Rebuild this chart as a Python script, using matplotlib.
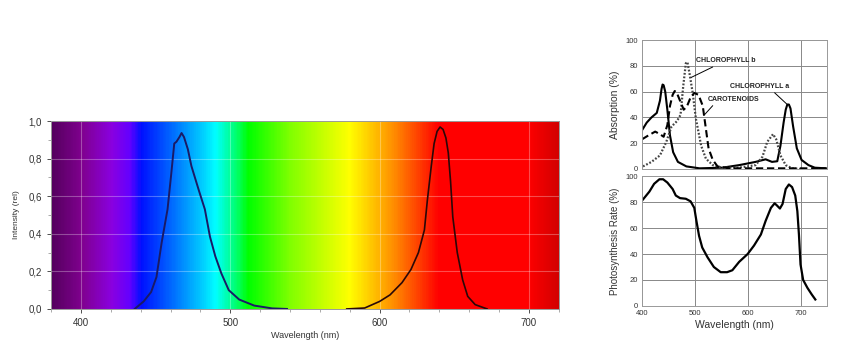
import numpy as np
import matplotlib
matplotlib.use("Agg")
import matplotlib.pyplot as plt
from matplotlib.colors import LinearSegmentedColormap
from matplotlib.ticker import MultipleLocator, FuncFormatter

plt.rcParams['font.family'] = ['Liberation Sans', 'DejaVu Sans']

# LED emission spectra (left chart)
blue_wl = [436, 442, 447, 450.6, 454, 458, 460.5, 462.5, 464, 466, 467.4, 469, 471.6, 474,
           479, 483, 486.4, 490, 494, 499, 506, 516, 528, 538]
blue_int = [0, 0.04, 0.09, 0.17, 0.35, 0.53, 0.72, 0.88, 0.89, 0.915, 0.936, 0.915, 0.85, 0.76,
            0.63, 0.53, 0.385, 0.28, 0.19, 0.10, 0.05, 0.018, 0.003, 0]
red_wl = [578, 590, 600, 607, 615, 621, 626, 630, 632, 634.6, 636.5, 638.5, 640.5, 642.5, 644.4,
          646, 647.5, 649, 652, 655.6, 659, 664, 672]
red_int = [0, 0.005, 0.04, 0.075, 0.14, 0.21, 0.30, 0.42, 0.58, 0.76, 0.88, 0.945, 0.968, 0.955,
           0.91, 0.83, 0.68, 0.49, 0.30, 0.155, 0.067, 0.023, 0]

# background spectrum colour stops
spec_wl = [380, 400, 420, 432, 440, 460, 480, 490, 505, 512, 540, 580, 610, 640, 700, 720]
spec_col = ['#55005f', '#80008f', '#8a00e0', '#6400ff', '#0010ff', '#0068ff', '#00c8ff',
            '#00ffff', '#00ff60', '#00ff00', '#80ff00', '#ffff00', '#ff8c00', '#ff0000',
            '#ff0000', '#d40000']

# absorption spectra (top right)
chla_wl = [400, 409, 418, 428, 434, 437, 439, 441, 444, 448, 453, 459, 468, 484, 509, 552, 584,
           615, 634, 646, 656, 662, 668, 672, 675, 678, 681, 686, 693, 702, 715, 727, 748]
chla_abs = [30, 36, 40, 43.5, 53, 62, 65.5, 65, 60, 46, 26, 13, 5.5, 2, 0.5, 1, 3,
            5.5, 7.5, 5.5, 6, 18, 36, 46, 50, 50, 47, 33, 16, 7, 3, 1, 0.5]
chlb_wl = [402, 418, 434, 446, 456, 466, 473, 478, 483, 486, 490, 496, 502, 512, 521, 534, 552,
           584, 615, 628, 637, 648, 654, 662, 672, 684, 702]
chlb_abs = [2, 5.5, 10.5, 21, 33, 37, 42, 64, 82, 83, 74, 59, 39, 18, 8, 3, 1,
            1, 3, 9.5, 21, 27, 23, 10.5, 3, 0.5, 0]
car_wl = [400, 412, 425, 434, 441, 448, 453, 458, 462, 466, 473, 479, 485, 492, 499, 507, 515,
          520, 526, 534, 543, 565, 748]
car_abs = [23, 26, 29, 27, 25, 34, 49, 57.5, 60.5, 59, 52, 46, 48.5, 55.5, 59, 57.5, 49,
           34, 16, 7, 2, 0.5, 0.5]

# photosynthesis action spectrum (bottom right)
ps_wl = [398, 404, 414, 423, 433, 440, 448, 458, 464, 472, 483, 492, 499, 503, 508, 514, 524,
         536, 549, 561, 571, 584, 600, 612, 625, 634, 644, 651, 655, 661, 666, 672, 678, 684,
         690, 694, 697, 700, 705, 713, 721, 728]
ps_rate = [80, 83, 88, 94, 97.5, 97.5, 95, 90, 85, 83, 82.5, 80.5, 75.5, 65.5, 54, 45, 37.5,
           30, 26, 26, 27.5, 34, 40, 46.5, 55, 65.5, 75.5, 79, 77.5, 75, 78.5, 90, 93.5, 91.5,
           85, 73, 55, 32, 20, 14, 9, 5]

fig = plt.figure(figsize=(8.68, 3.58), dpi=100)

# ---- left: LED spectrum over rainbow
ax = fig.add_axes([0.0588, 0.137, 0.585, 0.525])
stops = [(w - spec_wl[0]) / (spec_wl[-1] - spec_wl[0]) for w in spec_wl]
cmap = LinearSegmentedColormap.from_list('spec', list(zip(stops, spec_col)))
grad = np.linspace(0, 1, 600).reshape(1, -1)
ax.imshow(grad, cmap=cmap, aspect='auto', extent=[spec_wl[0], spec_wl[-1], 0, 1],
          origin='lower', zorder=0)
ax.plot(blue_wl, blue_int, color='#1a1a66', lw=1.4, zorder=3)
ax.plot(red_wl, red_int, color='#2a0808', lw=1.2, zorder=3)
ax.set_xlim(380, 720)
ax.set_ylim(0, 1)
ax.xaxis.set_major_locator(MultipleLocator(100))
ax.xaxis.set_minor_locator(MultipleLocator(20))
ax.yaxis.set_major_locator(MultipleLocator(0.2))
ax.yaxis.set_minor_locator(MultipleLocator(0.1))
ax.yaxis.set_major_formatter(FuncFormatter(lambda v, p: f"{v:.1f}".replace('.', ',')))
ax.grid(True, which='major', color='white', alpha=0.3, lw=0.8, zorder=1)
ax.tick_params(labelsize=7, colors='#333333', length=3, width=0.6)
ax.tick_params(which='minor', length=2, width=0.5, colors='#888888')
for s in ax.spines.values():
    s.set_color('#999999')
    s.set_linewidth(0.7)
ax.set_xlabel('Wavelength (nm)', fontsize=6.5, color='#333333', labelpad=2)
ax.set_ylabel('Intensity (rel)', fontsize=6, color='#333333', labelpad=6)

# ---- right top: absorption
ax1 = fig.add_axes([0.7396, 0.528, 0.2131, 0.360])
ax1.plot(chla_wl, chla_abs, color='black', lw=1.5)
ax1.plot(chlb_wl, chlb_abs, color='#444444', lw=1.6, ls=(0, (0.8, 0.8)))
ax1.plot(car_wl, car_abs, color='black', lw=1.5, ls=(0, (3.5, 1.8)))
ax1.annotate('CHLOROPHYLL b', xy=(493, 71), xytext=(502, 84), fontsize=5, fontweight='bold',
             color='#222222', va='center',
             arrowprops=dict(arrowstyle='-', color='black', lw=0.7, shrinkA=0, shrinkB=0))
ax1.annotate('CHLOROPHYLL a', xy=(675, 50), xytext=(567, 64), fontsize=5, fontweight='bold',
             color='#222222', va='center',
             arrowprops=dict(arrowstyle='-', color='black', lw=0.7, shrinkA=0, shrinkB=0,
                             relpos=(0.7, 0)))
ax1.annotate('CAROTENOIDS', xy=(517, 41.5), xytext=(524, 54), fontsize=5, fontweight='bold',
             color='#222222', va='center',
             arrowprops=dict(arrowstyle='-', color='black', lw=0.7, shrinkA=0, shrinkB=0,
                             relpos=(0.15, 0)))
ax1.set_xlim(400, 750)
ax1.set_ylim(0, 100)
ax1.set_xticks([400, 500, 600, 700])
ax1.set_xticklabels([])
ax1.set_yticks([0, 20, 40, 60, 80, 100])
ax1.set_ylabel('Absorption (%)', fontsize=7.5, color='#333333', labelpad=4)

# ---- right bottom: photosynthesis rate
ax2 = fig.add_axes([0.7396, 0.1453, 0.2131, 0.363])
ax2.plot(ps_wl, ps_rate, color='black', lw=1.6)
ax2.set_xlim(400, 750)
ax2.set_ylim(0, 100)
ax2.set_xticks([400, 500, 600, 700])
ax2.set_yticks([0, 20, 40, 60, 80, 100])
ax2.set_xlabel('Wavelength (nm)', fontsize=7.5, color='#333333', labelpad=2)
ax2.set_ylabel('Photosynthesis Rate (%)', fontsize=7, color='#333333', labelpad=4)

for a in (ax1, ax2):
    a.grid(True, color='#888888', lw=0.7)
    a.tick_params(labelsize=5.5, length=0, pad=3, colors='#333333')
    for s in a.spines.values():
        s.set_color('#999999')
        s.set_linewidth(0.7)

fig.savefig('out.png', dpi=100)
